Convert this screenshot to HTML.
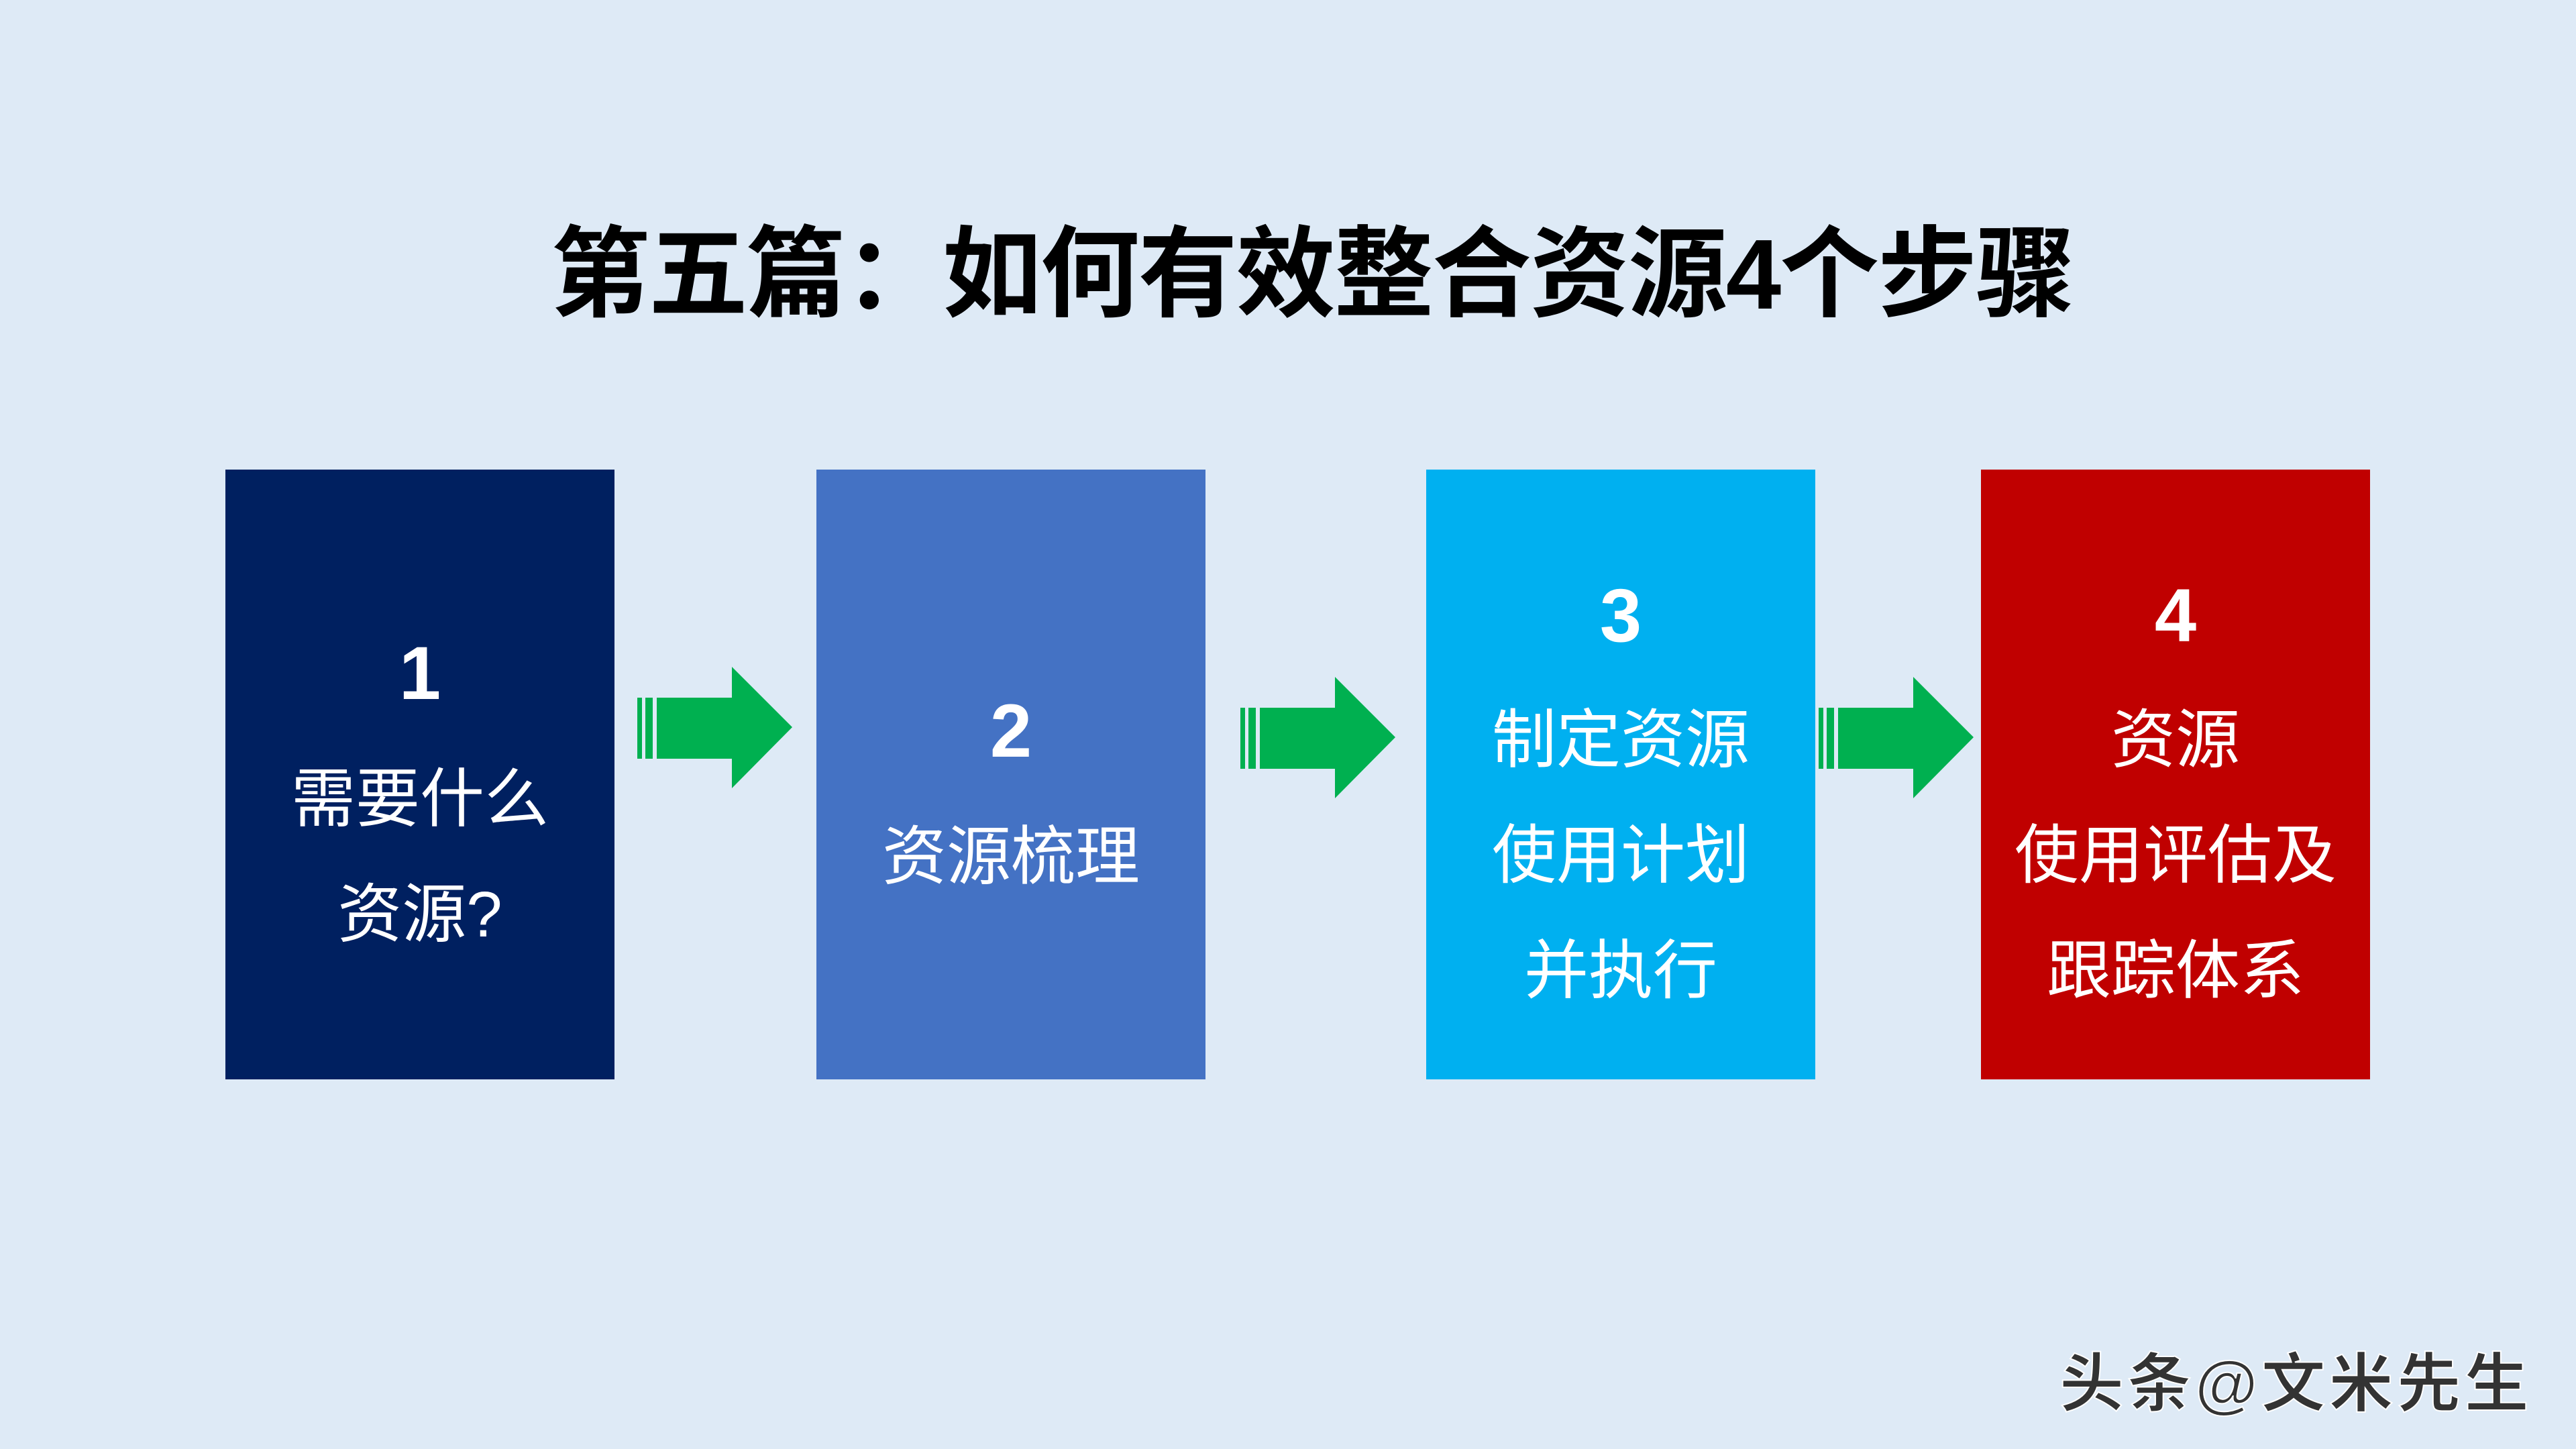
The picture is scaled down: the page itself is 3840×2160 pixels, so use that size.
<!DOCTYPE html>
<html><head><meta charset="utf-8"><style>
html,body{margin:0;padding:0}
body{width:3840px;height:2160px;background:#DEEAF6;position:relative;overflow:hidden;font-family:"Liberation Sans","Noto Sans CJK SC",sans-serif}
.t{position:absolute;left:36px;width:3840px;top:320px;text-align:center;font-size:148px;font-weight:bold;color:#000;line-height:180px;font-family:"Liberation Sans","Noto Sans CJK SC",sans-serif;letter-spacing:-2px}
.b{position:absolute;top:700px;width:580px;height:909px;color:#fff;text-align:center}
.b div{position:absolute;left:0;width:100%;line-height:172px;font-size:96px}
.n{font-weight:bold;font-size:112px!important}
.w{position:absolute;left:3070px;top:1985px;font-size:96px;color:#333;font-weight:bold;-webkit-text-stroke:2px #fff;letter-spacing:5px}
</style></head><body>
<div class="t">第五篇：如何有效整合资源4个步骤</div>
<div class="b" style="left:336px;background:#002060">
<div class="n" style="top:218px">1</div><div style="top:406px">需要什么</div><div style="top:578px">资源?</div></div>
<div class="b" style="left:1217px;background:#4472C4">
<div class="n" style="top:304px">2</div><div style="top:492px">资源梳理</div></div>
<div class="b" style="left:2126px;background:#00B0F0">
<div class="n" style="top:132px">3</div><div style="top:318px">制定资源</div><div style="top:490px">使用计划</div><div style="top:662px">并执行</div></div>
<div class="b" style="left:2953px;background:#C00000">
<div class="n" style="top:132px">4</div><div style="top:318px">资源</div><div style="top:490px">使用评估及</div><div style="top:662px">跟踪体系</div></div>
<svg width="3840" height="2160" style="position:absolute;left:0;top:0">
<defs><g id="a" fill="#00B050"><rect x="0" y="46" width="7" height="91"/><rect x="12" y="46" width="11" height="91"/><path d="M29 46H141V0L231 90L141 181V137H29Z"/></g></defs>
<use href="#a" x="950" y="994"/>
<use href="#a" x="1849" y="1009"/>
<use href="#a" x="2711" y="1009"/>
</svg>
<div class="w">头条@文米先生</div>
</body></html>
